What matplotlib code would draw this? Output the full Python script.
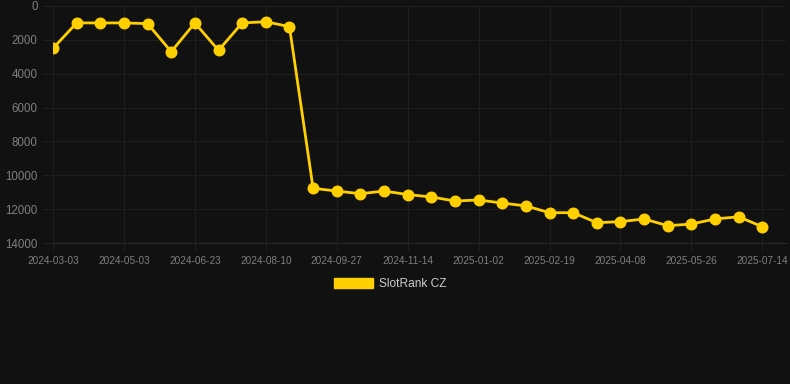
import numpy as np
import matplotlib
matplotlib.use("Agg")
import matplotlib.pyplot as plt
from matplotlib.patches import Patch

# rank values (lower on screen = worse rank)
rank = [2500, 1000, 1000, 1000, 1040, 2700, 1000, 2620, 1000, 930, 1220,
        10770, 10930, 11090, 10930, 11140, 11280, 11520, 11460, 11640, 11810,
        12210, 12210, 12800, 12740, 12580, 12980, 12880, 12580, 12450, 13040]
tick_labels = ["2024-03-03", "2024-05-03", "2024-06-23", "2024-08-10", "2024-09-27",
               "2024-11-14", "2025-01-02", "2025-02-19", "2025-04-08", "2025-05-26",
               "2025-07-14"]
y_ticks = [0, 2000, 4000, 6000, 8000, 10000, 12000, 14000]
series_name = "SlotRank CZ"

bg = "#111111"
gold = "#FFD000"
grid_c = "#1e1e1e"
txt_c = "#7f7f7f"

plt.rcParams['font.family'] = ['Liberation Sans', 'DejaVu Sans']

fig = plt.figure(figsize=(7.9, 3.84), dpi=100, facecolor=bg)
ax = fig.add_axes([53/790, 1-243/384, (786-53)/790, (243-6)/384], facecolor=bg)

x = np.arange(len(rank))
ax.plot(x, rank, color=gold, lw=2.0, marker="o", ms=7.6, mfc=gold, mec=gold, zorder=3)

ax.set_xlim(0, 31.0)
ax.set_ylim(14000, 0)
ax.set_yticks(y_ticks)
ax.set_yticklabels([str(v) for v in y_ticks])
ax.set_xticks(x[::3])
ax.set_xticklabels(tick_labels)

ax.grid(True, color=grid_c, lw=0.8)
ax.tick_params(axis="y", colors=grid_c, labelcolor=txt_c, labelsize=8.3, length=8, pad=3)
ax.tick_params(axis="x", colors=grid_c, labelcolor=txt_c, labelsize=7.2, length=6, pad=3)
for s in ax.spines.values():
    s.set_visible(False)
ax.spines["bottom"].set_visible(True)
ax.spines["bottom"].set_color("#2a2a2a")

leg = fig.legend(handles=[Patch(facecolor=gold, edgecolor=gold, label=series_name)],
                 loc="center", bbox_to_anchor=(390/790, 1-284/384), frameon=False,
                 fontsize=8.6, handlelength=3.3, handleheight=1.0, handletextpad=0.5,
                 labelcolor="#cccccc")

fig.savefig("out.png", dpi=100, facecolor=bg)
